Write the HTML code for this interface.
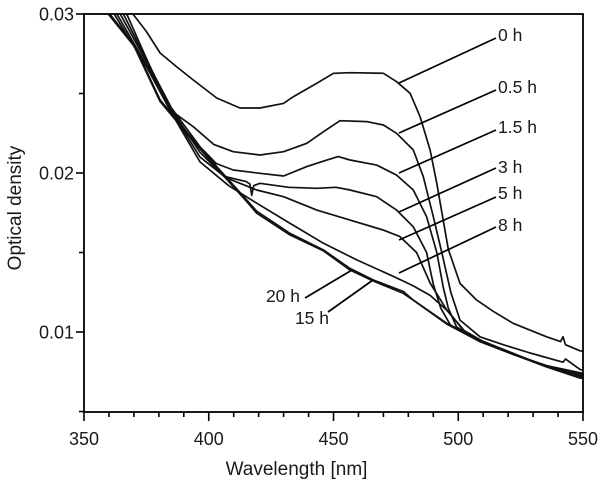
<!DOCTYPE html>
<html><head><meta charset="utf-8"><style>
body{margin:0;background:#fff}
svg{display:block;font-family:"Liberation Sans",sans-serif;fill:#1a1a1a}
</style></head><body>
<svg id="c" width="605" height="486"></svg>
<script>
const xTicks=[350,400,450,500,550];
const yTicks=[0.01,0.02,0.03];
const seriesNames=["0 h","0.5 h","1.5 h","3 h","5 h","8 h","15 h","20 h"];
const s0h=[[369.6,.03],[375,.0289],[380.5,.02755],[387,.0267],[393.8,.02585],[403.2,.02472],[412.5,.02409],[420.5,.02409],[429.9,.02438],[433.9,.0248],[443.3,.02564],[450,.02627],[456.6,.02631],[470,.02627],[475.3,.02574],[480.7,.02501],[484.7,.02354],[488.7,.02145],[491.4,.01935],[494,.0170],[496,.0152],[500.7,.01306],[507.4,.01201],[514,.0113],[522,.01055],[535.4,.0097],[541,.0094],[542,.0097],[543,.0092],[548.8,.00882],[550,.0088]];
const s05h=[[367.1,.03],[375,.0272],[384.5,.02396],[393.8,.02291],[402,.0218],[409.8,.02134],[420.5,.02113],[430,.02134],[439.3,.02187],[446,.0226],[452.6,.02329],[463.3,.02323],[470,.02302],[475.3,.0225],[482,.02145],[486,.01977],[490,.01725],[493.4,.0150],[497,.0125],[500.7,.01075],[508.7,.0097],[518,.0092],[528.8,.00868],[542,.0081],[543,.0083],[548.8,.00765],[550,.0076]];
const s15h=[[365.8,.03],[375,.0271],[385,.0241],[396.5,.02165],[403,.0206],[409.8,.02019],[420.5,.01998],[430,.01981],[439.3,.0204],[447,.0208],[451.9,.02103],[456.6,.02082],[467.3,.0205],[475.3,.01987],[482,.01893],[487.3,.01725],[491.4,.0150],[494,.0128],[496,.0115],[499.3,.01033],[508.7,.0094],[522,.0086],[535,.0079],[550,.0074]];
const s3h=[[364.5,.03],[375,.0270],[385,.0240],[396.5,.0213],[406,.0198],[415,.01946],[416.5,.0193],[417.2,.0186],[418,.0192],[420.5,.01935],[432,.0191],[443.3,.01904],[451,.0191],[456.6,.01893],[467.3,.01851],[475.3,.01767],[482,.01662],[487.3,.0150],[490,.0130],[493,.0115],[497,.0104],[508.7,.0094],[522,.0086],[535,.0079],[550,.0073]];
const s5h=[[363.2,.03],[375,.0268],[385,.0239],[396.5,.0210],[407,.0197],[419.2,.01893],[430,.01851],[443.3,.01767],[456.6,.01704],[470,.01641],[476.6,.0160],[483.3,.0150],[488.7,.01308],[495.4,.01138],[502,.01013],[510,.0094],[522,.0086],[535,.0079],[550,.0073]];
const s8h=[[362.1,.03],[375,.0267],[385,.0238],[396.5,.0207],[408,.0192],[419.2,.0181],[432.6,.01683],[446,.01558],[459.4,.01453],[472.6,.0136],[478,.0132],[482,.0129],[488.7,.0123],[495.4,.01138],[503.3,.00992],[510,.0094],[522,.0086],[535,.0079],[550,.0072]];
const s15=[[360.3,.03],[370,.0281],[380.5,.0246],[393.8,.02208],[403.2,.0204],[415.2,.0183],[419.2,.0176],[432.6,.0162],[446,.01516],[456.6,.0140],[466,.01327],[478,.01255],[482,.01201],[495.4,.01055],[508.7,.0095],[522,.00866],[535.4,.00782],[548.8,.0072],[550,.0072]];
const s20=[[359.7,.03],[370,.0280],[380.5,.0245],[393.8,.02200],[403.2,.0203],[415.2,.0182],[419.2,.01747],[432.6,.0161],[446,.0151],[456.6,.0139],[466,.0132],[478,.01243],[482,.0120],[495.4,.0105],[508.7,.0094],[522,.0086],[535.4,.0078],[548.8,.0071],[550,.0071]];
const allSeries=[s0h,s05h,s15h,s3h,s5h,s8h,s15,s20];
const L=84,R=583,T=14,B=412,X0=350,X1=550,Y0=0.00497,Y1=0.03;
const sx=v=>L+(v-X0)/(X1-X0)*(R-L);
const sy=v=>B-(v-Y0)/(Y1-Y0)*(B-T);
const svg=document.getElementById('c');const NS='http://www.w3.org/2000/svg';
function mk(t,a,p){const e=document.createElementNS(NS,t);for(const k in a)e.setAttribute(k,a[k]);(p||svg).appendChild(e);return e;}
const defs=mk('defs',{});const cp=mk('clipPath',{id:'cl'},defs);mk('rect',{x:L,y:T,width:R-L,height:B-T},cp);
const g=mk('g',{'clip-path':'url(#cl)'});
allSeries.forEach((s,i)=>{const p=mk('path',{d:s.map((q,j)=>(j?'L':'M')+sx(q[0]).toFixed(1)+','+sy(q[1]).toFixed(1)).join(''),fill:'none',stroke:'#111','stroke-width':1.7,'stroke-linejoin':'round'},g);

});
const fr=mk('rect',{x:L,y:T,width:R-L,height:B-T,fill:'none',stroke:'#000','stroke-width':1.8});


for(let v=X0;v<=X1;v+=10){const maj=v%50===0;mk('line',{x1:sx(v),x2:sx(v),y1:B,y2:B+(maj?9:5),stroke:'#000','stroke-width':1.6});}
xTicks.forEach(v=>{const t=mk('text',{x:sx(v),y:445,'text-anchor':'middle','font-size':18});t.textContent=v;

});
[0.005,0.015,0.025].forEach(v=>{mk('line',{x1:L-5,x2:L,y1:sy(v),y2:sy(v),stroke:'#000','stroke-width':1.6});});
yTicks.forEach(v=>{mk('line',{x1:L-8,x2:L,y1:sy(v),y2:sy(v),stroke:'#000','stroke-width':1.6});const t=mk('text',{x:L-10,y:sy(v)+6.5,'text-anchor':'end','font-size':18});t.textContent=v.toFixed(2);

});
const xt=mk('text',{x:(L+R)/2-37,y:475,'text-anchor':'middle','font-size':19});xt.textContent='Wavelength [nm]';


const yt=mk('text',{x:0,y:0,'text-anchor':'middle','font-size':19,transform:'translate(21,'+((T+B)/2-5)+') rotate(-90)'});yt.textContent='Optical density';


const ann=[["0 h",496,38,399,83,498,41,'start'],["0.5 h",496,90,399,133,498,93,'start'],["1.5 h",496,130,399,173,498,133,'start'],["3 h",496,168,399,212,498,173,'start'],["5 h",496,197,399,240,498,199,'start'],["8 h",496,227,399,273,498,231,'start'],["20 h",305,298,352,270,300,302,'end'],["15 h",328,312,373,280,329,324,'end']];
ann.forEach(a=>{mk('line',{x1:a[1],y1:a[2],x2:a[3],y2:a[4],stroke:'#000','stroke-width':1.7});const t=mk('text',{x:a[5],y:a[6],'text-anchor':a[7],'font-size':17.5});t.textContent=a[0];

});
</script>
</body></html>
